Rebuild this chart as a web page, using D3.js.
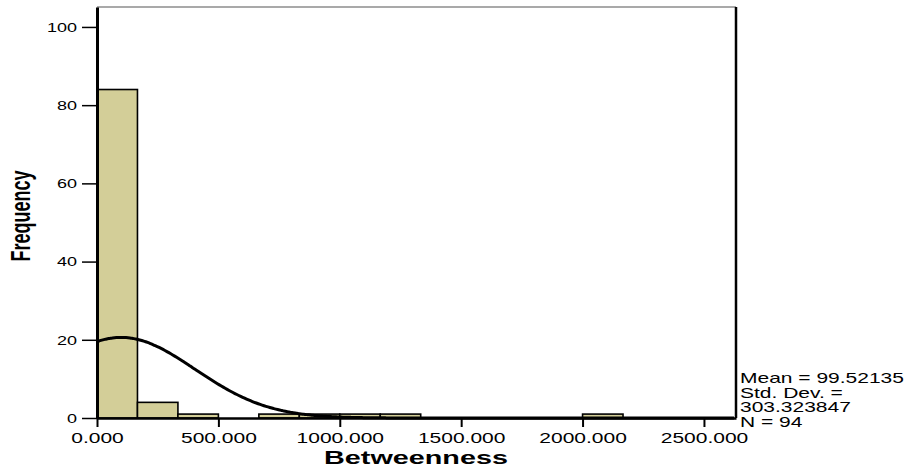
<!DOCTYPE html>
<html>
<head>
<meta charset="utf-8">
<script src="https://cdn.jsdelivr.net/npm/d3@7"></script>
<style>
  body { margin: 0; background: #fff; }
  text { font-family: "Liberation Sans", Arial, Helvetica, sans-serif; }
</style>
</head>
<body>
<div id="chart"></div>
<script>
// histogram bins (lower edge, upper edge) and their frequencies
var binLow  = [0, 166.667, 333.333, 500, 666.667, 833.333, 1000, 1166.667, 1333.333, 1500, 1666.667, 1833.333, 2000];
var binHigh = [166.667, 333.333, 500, 666.667, 833.333, 1000, 1166.667, 1333.333, 1500, 1666.667, 1833.333, 2000, 2166.667];
var counts  = [84, 4, 1, 0, 1, 1, 1, 1, 0, 0, 0, 0, 1];

var xTicks = [0, 500, 1000, 1500, 2000, 2500];
var yTicks = [0, 20, 40, 60, 80, 100];

var mean = 99.52135, stdDev = 303.323847, nCases = 94;
var statLines = ["Mean = 99.52135", "Std. Dev. =", "303.323847", "N = 94"];

var W = 910, H = 473;
var sx = 1.5; // text in the picture is stretched sideways

var svg = d3.select("#chart").append("svg")
  .attr("width", W)
  .attr("height", H);

var x = d3.scaleLinear().domain([0, 2632]).range([97, 736]);
var y = d3.scaleLinear().domain([0, 105.1]).range([418, 7]);

// frame
svg.append("line").attr("x1", 97).attr("x2", 736).attr("y1", 7).attr("y2", 7)
  .attr("stroke", "#555").attr("stroke-width", 1.2);
svg.append("line").attr("x1", 736).attr("x2", 736).attr("y1", 7).attr("y2", 418)
  .attr("stroke", "#000").attr("stroke-width", 2.5);

// bars
svg.selectAll("rect.bar")
  .data(counts.map(function (c, i) { return { x0: binLow[i], x1: binHigh[i], n: c }; })
    .filter(function (d) { return d.n > 0; }))
  .enter().append("rect")
  .attr("class", "bar")
  .attr("x", function (d) { return x(d.x0); })
  .attr("y", function (d) { return y(d.n); })
  .attr("width", function (d) { return x(d.x1) - x(d.x0); })
  .attr("height", function (d) { return y(0) - y(d.n); })
  .attr("fill", "#d3ce98")
  .attr("stroke", "#000")
  .attr("stroke-width", 1.6);

// normal curve from the stated mean / std. dev.
var bw = binHigh[0] - binLow[0];
var curvePts = d3.range(0, 2632, 8).map(function (v) {
  var z = (v - mean) / stdDev;
  return [v, nCases * bw * Math.exp(-0.5 * z * z) / (stdDev * Math.sqrt(2 * Math.PI))];
});
svg.append("path")
  .datum(curvePts)
  .attr("fill", "none")
  .attr("stroke", "#000")
  .attr("stroke-width", 3)
  .attr("d", d3.line().x(function (d) { return x(d[0]); }).y(function (d) { return y(d[1]); }).curve(d3.curveBasis));

// y axis
var yAxis = svg.append("g")
  .attr("transform", "translate(97,0)")
  .call(d3.axisLeft(y).tickValues(yTicks).tickSize(15).tickSizeOuter(0));
yAxis.select(".domain").attr("stroke-width", 3);
yAxis.selectAll(".tick line").attr("stroke-width", 1.5);
yAxis.selectAll(".tick text")
  .attr("x", 0).attr("dy", "0.36em")
  .attr("transform", "translate(-20,0) scale(" + sx + ",1)")
  .style("font-size", "12px")
  .attr("fill", "#000");

// x axis
var xAxis = svg.append("g")
  .attr("transform", "translate(0,418)")
  .call(d3.axisBottom(x).tickValues(xTicks).tickSize(9).tickSizeOuter(0)
    .tickFormat(function (d) { return d3.format(".3f")(d); }));
xAxis.select(".domain").attr("stroke-width", 2.5);
xAxis.selectAll(".tick line").attr("stroke-width", 2);
xAxis.selectAll(".tick text")
  .attr("y", 0).attr("dy", 0)
  .attr("transform", "translate(0,25) scale(" + sx + ",1)")
  .style("font-size", "14px")
  .attr("fill", "#000");

// axis titles
svg.append("text")
  .attr("transform", "translate(416,464) scale(1.6,1)")
  .attr("text-anchor", "middle")
  .style("font-size", "18px")
  .style("font-weight", "bold")
  .text("Betweenness");

svg.append("text")
  .attr("transform", "translate(30,216) scale(" + sx + ",1) rotate(-90)")
  .attr("text-anchor", "middle")
  .style("font-size", "18px")
  .style("font-weight", "bold")
  .text("Frequency");

// statistics box
svg.selectAll("text.stat")
  .data(statLines)
  .enter().append("text")
  .attr("class", "stat")
  .attr("transform", function (d, i) { return "translate(740," + (383 + i * 14.7) + ") scale(" + sx + ",1)"; })
  .style("font-size", "14px")
  .text(function (d) { return d; });
</script>
</body>
</html>
